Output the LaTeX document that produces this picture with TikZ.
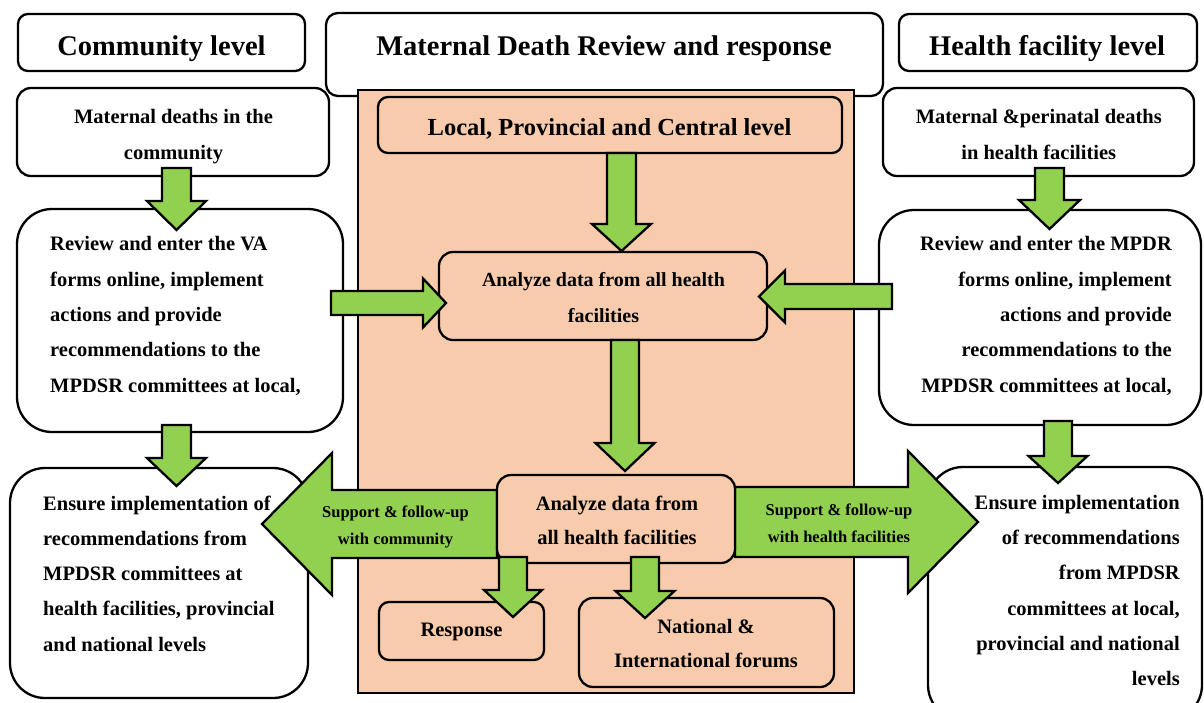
\documentclass[tikz,border=0pt]{standalone}
\usepackage{fontspec}
\setmainfont{Liberation Serif}
\definecolor{peach}{HTML}{F8CBAD}
\definecolor{arrowgreen}{HTML}{92D050}
\tikzset{
  box/.style={draw=black, line width=2.3pt, fill=white, inner sep=0pt},
  peachbox/.style={box, fill=peach},
  blk/.style={draw=black, line width=2.3pt, fill=arrowgreen, line join=miter},
  headtxt/.style={font=\fontsize{28.5}{34}\selectfont\bfseries, inner sep=0pt, anchor=base},
  bodytxt/.style={font=\fontsize{20.5}{35.3}\selectfont\bfseries, inner sep=0pt},
  arrtxt/.style={font=\fontsize{16.5}{27}\selectfont\bfseries, inner sep=0pt, align=center},
}
% xc y1 y2 y3 halfshaft halfhead
\newcommand\blkdown[6]{\draw[blk] ({#1-#5},#2) -- ({#1-#5},#3) -- ({#1-#6},#3) -- (#1,#4) -- ({#1+#6},#3) -- ({#1+#5},#3) -- ({#1+#5},#2) -- cycle;}
% yc x1 x2 x3 halfshaft halfhead
\newcommand\blkhoriz[6]{\draw[blk] (#2,{#1-#5}) -- (#3,{#1-#5}) -- (#3,{#1-#6}) -- (#4,#1) -- (#3,{#1+#6}) -- (#3,{#1+#5}) -- (#2,{#1+#5}) -- cycle;}
\begin{document}
\begin{tikzpicture}[x=1pt,y=-1pt]
\useasboundingbox (0,0) rectangle (1204,702);
\clip (0,0) rectangle (1204,702);

% headers
\node[box, rounded corners=10pt, minimum width=287pt, minimum height=57pt] (hcom) at (161.5,42.5) {};
\node[box, rounded corners=12pt, minimum width=557pt, minimum height=83pt] (hmdr) at (604.5,54.5) {};
\node[box, rounded corners=10pt, minimum width=298pt, minimum height=57pt] (hhf) at (1048,42.5) {};
\node[headtxt] (thcom) at (161.5,55) {Community level};
\node[headtxt] (thmdr) at (604,55) {Maternal Death Review and response};
\node[headtxt] (thhf) at (1047,55) {Health facility level};

% central panel
\node[draw=black, line width=2.3pt, fill=peach, minimum width=496pt, minimum height=603pt, inner sep=0pt] (panel) at (606,391.5) {};
\node[peachbox, rounded corners=10pt, minimum width=464pt, minimum height=56pt] (loc) at (610,125) {};
\node[font=\fontsize{24.5}{30}\selectfont\bfseries, inner sep=0pt, anchor=base] (tloc) at (609.5,135) {Local, Provincial and Central level};
\node[peachbox, rounded corners=14pt, minimum width=328pt, minimum height=88pt] (an1) at (603,296) {};
\node[font=\fontsize{20}{36}\selectfont\bfseries, inner sep=0pt, align=center] (tan1) at (603.5,298) {Analyze data from all health\\facilities};

% left column
\node[box, rounded corners=14pt, minimum width=312pt, minimum height=88pt] (cm1) at (173,132) {};
\node[bodytxt, align=center] (tcm1) at (173.5,136.5) {Maternal deaths in the\\community};
\node[box, rounded corners=35pt, minimum width=326pt, minimum height=223pt] (cm2) at (180,320.5) {};
\node[bodytxt, align=left, anchor=west] (tcm2) at (50,316) {Review and enter the VA\\forms online, implement\\actions and provide\\recommendations to the\\MPDSR committees at local,};
\node[box, rounded corners=35pt, minimum width=298pt, minimum height=230pt] (cm3) at (159,583) {};
\node[bodytxt, align=left, anchor=west] (tcm3) at (43,573.5) {Ensure implementation of\\recommendations from\\MPDSR committees at\\health facilities, provincial\\and national levels};

% right column
\node[box, rounded corners=14pt, minimum width=311pt, minimum height=88pt] (hf1) at (1038.5,132) {};
\node[bodytxt, align=center] (thf1) at (1038.75,134.5) {Maternal \&perinatal deaths\\in health facilities};
\node[box, rounded corners=35pt, minimum width=322pt, minimum height=215pt] (hf2) at (1040,317.5) {};
\node[bodytxt, align=right, anchor=east] (thf2) at (1172,316) {Review and enter the MPDR\\forms online, implement\\actions and provide\\recommendations to the\\MPDSR committees at local,};
\node[box, rounded corners=35pt, minimum width=274pt, minimum height=253pt] (hf3) at (1065,593.5) {};
\node[bodytxt, align=right, anchor=east] (thf3) at (1180,590.5) {Ensure implementation\\of recommendations\\from MPDSR\\committees at local,\\provincial and national\\levels};

% side arrows
\blkdown{176.5}{168}{201}{230}{14.5}{29.5}
\blkdown{176.5}{425}{458}{486}{14.5}{29.5}
\blkdown{1049.5}{168}{200}{229}{14.5}{30.5}
\blkdown{1058}{421}{456}{483}{14}{29.5}
\blkhoriz{303}{331}{423}{446}{12}{24.5}
\blkhoriz{296.5}{892}{785}{759}{12.5}{26}
% central arrows
\blkdown{621.5}{153}{224}{251}{14.5}{29.5}
\blkdown{625}{340}{443}{471}{14}{29.5}

% bottom boxes
\node[peachbox, rounded corners=10pt, minimum width=165pt, minimum height=58pt] (resp) at (461.5,631) {};
\node[bodytxt, anchor=base] (tresp) at (461.5,636) {Response};
\node[peachbox, rounded corners=14pt, minimum width=255pt, minimum height=89pt] (nat) at (706.5,642.5) {};
\node[font=\fontsize{20.5}{34}\selectfont\bfseries, inner sep=0pt, align=center] (tnat) at (706,644) {National \&\\International forums};

% big arrows
\blkhoriz{524}{497}{332}{262}{34}{71}
\blkhoriz{522}{735}{908}{978}{35}{71}
\node[arrtxt] (tleft) at (395.5,526.6) {Support \& follow-up\\with community};
\node[arrtxt] (tright) at (839,522.8) {Support \& follow-up\\with health facilities};

\node[peachbox, rounded corners=14pt, minimum width=238pt, minimum height=88pt] (an2) at (616,519) {};
\node[font=\fontsize{20.5}{34}\selectfont\bfseries, inner sep=0pt, align=center] (tan2) at (617,520) {Analyze data from\\all health facilities};

\blkdown{513}{557}{590}{617}{14}{29}
\blkdown{645}{557}{591}{618}{14}{29.5}
\end{tikzpicture}
\end{document}
